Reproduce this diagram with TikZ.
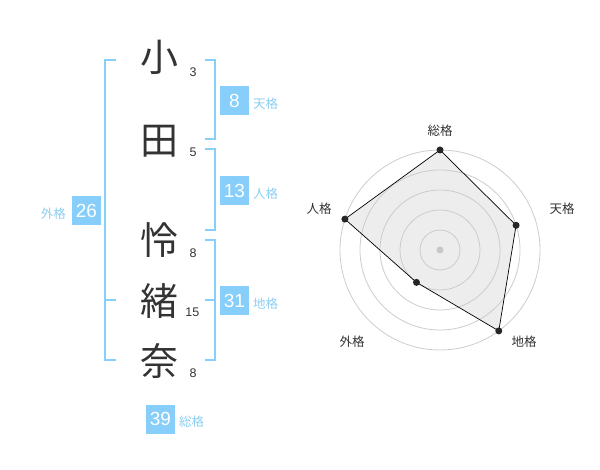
\documentclass[tikz,border=0pt]{standalone}
\usepackage{fontspec}
\usetikzlibrary{calc}
\setmainfont{Liberation Sans}
\newfontfamily\cjk{Noto Sans CJK JP}
\definecolor{sky}{HTML}{87CEFA}
\definecolor{skytext}{HTML}{8CCEF2}
\definecolor{ink}{HTML}{333333}
\definecolor{ring}{HTML}{CCCCCC}
\begin{document}
\begin{tikzpicture}[x=1pt,y=-1pt,
  kanji/.style={font=\cjk\fontsize{38}{38}\selectfont,text=ink,inner sep=0pt},
  stroke/.style={font=\fontsize{12.5}{12.5}\selectfont,text=ink,inner sep=0pt},
  numbox/.style={fill=sky,text=white,minimum width=29pt,minimum height=29pt,inner sep=0pt,font=\fontsize{19}{19}\selectfont},
  kaku/.style={font=\cjk\fontsize{12.5}{12.5}\selectfont,text=skytext,inner sep=0pt},
  bracket/.style={draw=sky,line width=2pt},
  radlab/.style={font=\cjk\fontsize{12.5}{12.5}\selectfont,text=ink,inner sep=0pt},
  ringline/.style={draw=ring,line width=0.8pt},
  dot/.style={circle,fill=black!85,inner sep=0pt,minimum size=7pt}]
\useasboundingbox (0,0) rectangle (600,470);
% kanji
\node[kanji] (k1) at (159,57) {小};
\node[kanji] (k2) at (159,141.5) {田};
\node[kanji] (k3) at (159,240) {怜};
\node[kanji] (k4) at (159,301) {緒};
\node[kanji] (k5) at (159,361) {奈};
% stroke counts
\node[stroke] (s1) at (193,72.7) {3};
\node[stroke] (s2) at (193,152.7) {5};
\node[stroke] (s3) at (193,252.7) {8};
\node[stroke] (s4) at (192.3,312.7) {15};
\node[stroke] (s5) at (193,373.3) {8};
% brackets
\draw[bracket] (116,60) -- (105,60) -- (105,360) -- (116,360);
\draw[bracket] (105,300) -- (116,300);
\draw[bracket] (205,60) -- (215,60) -- (215,139) -- (205,139);
\draw[bracket] (205,149) -- (215,149) -- (215,230) -- (205,230);
\draw[bracket] (205,240) -- (215,240) -- (215,360) -- (205,360);
\draw[bracket] (205,300) -- (215,300);
% boxes
\node[numbox] (ten) at (234.5,100.5) {8};
\node[kaku,anchor=west] (tenl) at (253,103.5) {天格};
\node[numbox] (jin) at (234.5,190.5) {13};
\node[kaku,anchor=west] (jinl) at (253,193.5) {人格};
\node[numbox] (gai) at (86.5,210.5) {26};
\node[kaku,anchor=east] (gail) at (66,213.5) {外格};
\node[numbox] (chi) at (234.5,300.5) {31};
\node[kaku,anchor=west] (chil) at (253,303.5) {地格};
\node[numbox] (sou) at (160.5,419) {39};
\node[kaku,anchor=west] (soul) at (179,422) {総格};
% radar
\coordinate (c) at (440,250);
\coordinate (pS) at ($(c)+(-90:100)$);
\coordinate (pT) at ($(c)+(-18:80)$);
\coordinate (pC) at ($(c)+(54:100)$);
\coordinate (pG) at ($(c)+(126:40)$);
\coordinate (pJ) at ($(c)+(198:100)$);
\fill[black!7] (pS) -- (pT) -- (pC) -- (pG) -- (pJ) -- cycle;
\foreach \r in {20,40,60,80,100} \draw[ringline] (c) circle[radius=\r];
\fill[black!22] (c) circle[radius=3.5];
\draw[black,line width=0.7pt] (pS) -- (pT) -- (pC) -- (pG) -- (pJ) -- cycle;
\node[dot] (dS) at (pS) {};
\node[dot] (dT) at (pT) {};
\node[dot] (dC) at (pC) {};
\node[dot] (dG) at (pG) {};
\node[dot] (dJ) at (pJ) {};
\node[radlab] (lS) at (440,130.5) {総格};
\node[radlab] (lT) at (562,209) {天格};
\node[radlab] (lC) at (524,342) {地格};
\node[radlab] (lG) at (352,342) {外格};
\node[radlab] (lJ) at (319,209) {人格};
\end{tikzpicture}
\end{document}
